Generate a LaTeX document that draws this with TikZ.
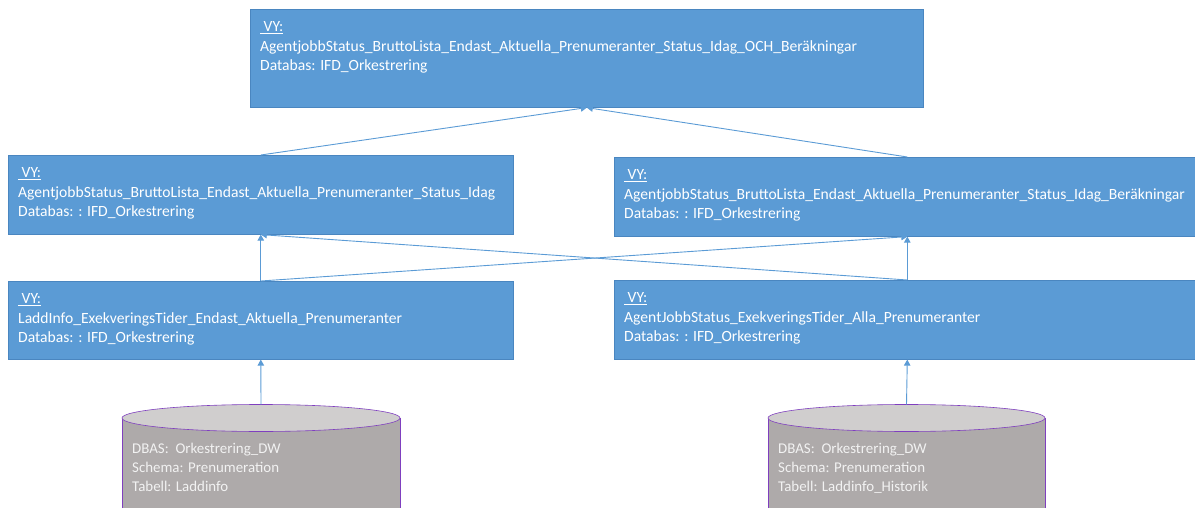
\documentclass[tikz,border=0pt]{standalone}
\usepackage{fontspec}
\setmainfont{Carlito}
\usepackage{tikz}
\usetikzlibrary{arrows.meta}
\definecolor{vyblue}{HTML}{5B9BD5}
\definecolor{vyedge}{HTML}{4A86C0}
\definecolor{linkblue}{HTML}{5B9BD5}
\definecolor{dbbody}{HTML}{AEAAAA}
\definecolor{dbtop}{HTML}{D0CECE}
\definecolor{dbedge}{HTML}{7F3FBF}

\begin{document}
\begin{tikzpicture}[x=1pt, y=-1pt,
        vybox/.style={draw=vyedge, line width=0.6pt, fill=vyblue, inner sep=0pt, anchor=north west},
        vytext/.style={text=white, align=left, inner sep=0pt, anchor=north west,
                       font=\fontsize{15.6}{19.5}\selectfont},
        dbtext/.style={text=white!95!black, align=left, inner sep=0pt, anchor=north west,
                       font=\fontsize{14.9}{19}\selectfont},
        link/.style={draw=linkblue, line width=0.9pt, -{Triangle[width=6.5pt,length=6pt]}}]
        \useasboundingbox (0,0) rectangle (1195,508);
        \clip (0,0) rectangle (1195,508);

        \node [vybox, minimum width=673, minimum height=98] (vytop)   at (250,9)   {};   %VY top
        \node [vytext] at ([shift={(10,12.5)}]vytop.north west)
              {\underline{\ VY:}\\AgentjobbStatus\_BruttoLista\_Endast\_Aktuella\_Prenumeranter\_Status\_Idag\_OCH\_Beräkningar\\Databas: IFD\_Orkestrering};

        \node [vybox, minimum width=505, minimum height=79] (vyidag)  at (8,155)   {};   %VY Idag
        \node [vytext] at ([shift={(10,12.5)}]vyidag.north west)
              {\underline{\ VY:}\\AgentjobbStatus\_BruttoLista\_Endast\_Aktuella\_Prenumeranter\_Status\_Idag\\Databas: : IFD\_Orkestrering};

        \node [vybox, minimum width=586, minimum height=79] (vyberak) at (614,157) {};   %VY Beraekningar
        \node [vytext] at ([shift={(10,12.5)}]vyberak.north west)
              {\underline{\ VY:}\\AgentjobbStatus\_BruttoLista\_Endast\_Aktuella\_Prenumeranter\_Status\_Idag\_Beräkningar\\Databas: : IFD\_Orkestrering};

        \node [vybox, minimum width=505, minimum height=78] (vyladd)  at (8,281)   {};   %VY LaddInfo
        \node [vytext] at ([shift={(10,12.5)}]vyladd.north west)
              {\underline{\ VY:}\\LaddInfo\_ExekveringsTider\_Endast\_Aktuella\_Prenumeranter\\Databas: : IFD\_Orkestrering};

        \node [vybox, minimum width=586, minimum height=79] (vyexek)  at (614,280) {};   %VY Exekvering
        \node [vytext] at ([shift={(10,12.5)}]vyexek.north west)
              {\underline{\ VY:}\\AgentJobbStatus\_ExekveringsTider\_Alla\_Prenumeranter\\Databas: : IFD\_Orkestrering};

        \fill [dbbody] (122,418) rectangle (400,530);                                   %DB Laddinfo
        \draw [dbedge, line width=0.6pt] (122,418) -- (122,530) (400,418) -- (400,530);
        \draw [dbedge, line width=0.6pt, fill=dbtop] (261,418) ellipse [x radius=139, y radius=13.5];
        \coordinate (dbladd) at (261,404.5);
        \node [dbtext] at (132,442.5) {DBAS:\ \ Orkestrering\_DW\\Schema: Prenumeration\\Tabell: Laddinfo};

        \fill [dbbody] (768,418) rectangle (1045,530);                                  %DB Historik
        \draw [dbedge, line width=0.6pt] (768,418) -- (768,530) (1045,418) -- (1045,530);
        \draw [dbedge, line width=0.6pt, fill=dbtop] (906.5,418) ellipse [x radius=138.5, y radius=13.5];
        \coordinate (dbhist) at (906.5,404.5);
        \node [dbtext] at (778,442.5) {DBAS:\ \ Orkestrering\_DW\\Schema: Prenumeration\\Tabell: Laddinfo\_Historik};

        \draw [link] (vyidag.north)  -- (vytop.south);
        \draw [link] (vyberak.north) -- (vytop.south);
        \draw [link] (vyladd.north)  -- (vyidag.south);
        \draw [link] (vyexek.north)  -- (vyidag.south);
        \draw [link] (vyladd.north)  -- (vyberak.south);
        \draw [link] (vyexek.north)  -- (vyberak.south);
        \draw [link] (dbladd)        -- (vyladd.south);
        \draw [link] (dbhist)        -- (vyexek.south);
\end{tikzpicture}
\end{document}
